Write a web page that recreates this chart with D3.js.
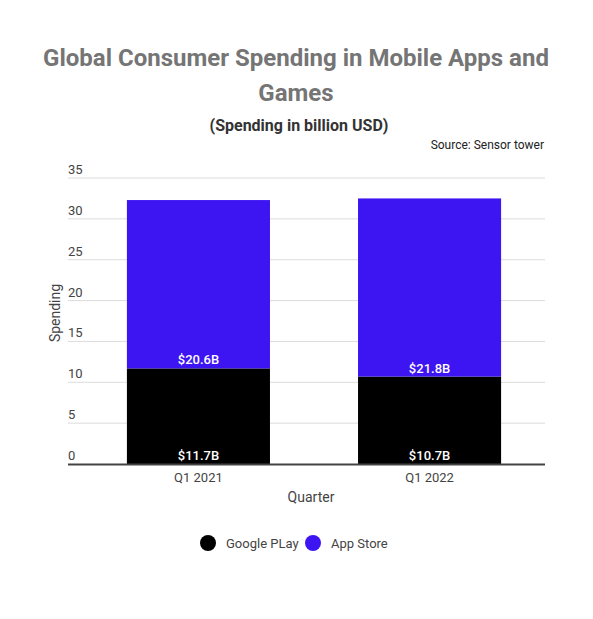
<!DOCTYPE html>
<meta charset="utf-8">
<style>
body { margin: 0; background: #fff; }
text { font-family: Roboto, sans-serif; }
</style>
<body>
<script src="https://cdnjs.cloudflare.com/ajax/libs/d3/7.8.5/d3.min.js"></script>
<script>

var quarters = ["Q1 2021", "Q1 2022"];
var googlePlay = [11.7, 10.7];
var appStore = [20.6, 21.8];
var seriesNames = ["Google PLay", "App Store"];
var seriesColors = ["#000000", "#3d14f2"];
var yTicks = [0, 5, 10, 15, 20, 25, 30, 35];

var width = 593,
    height = 619;

var svg = d3.select("body").append("svg")
    .attr("width", width)
    .attr("height", height);

var x = d3.scaleBand()
    .domain(quarters)
    .range([83, 545])
    .paddingInner(0.381)
    .paddingOuter(0.19);

var y = d3.scaleLinear()
    .domain([0, 35])
    .range([464, 178]);

// titles
svg.append("text")
    .attr("x", 296).attr("y", 66)
    .attr("text-anchor", "middle")
    .style("font-size", "24px").style("font-weight", "bold")
    .attr("fill", "#757575")
    .text("Global Consumer Spending in Mobile Apps and");
svg.append("text")
    .attr("x", 296).attr("y", 101)
    .attr("text-anchor", "middle")
    .style("font-size", "24px").style("font-weight", "bold")
    .attr("fill", "#757575")
    .text("Games");
svg.append("text")
    .attr("x", 299).attr("y", 131)
    .attr("text-anchor", "middle")
    .style("font-size", "16px").style("font-weight", "bold")
    .attr("fill", "#333")
    .text("(Spending in billion USD)");
svg.append("text")
    .attr("x", 544).attr("y", 149)
    .attr("text-anchor", "end")
    .style("font-size", "12px")
    .attr("fill", "#222")
    .text("Source: Sensor tower");

// grid + y labels
var grid = svg.append("g");
grid.selectAll("line").data(yTicks.filter(function(d) { return d > 0; })).enter()
    .append("line")
    .attr("x1", 68).attr("x2", 545)
    .attr("y1", function(d) { return y(d); })
    .attr("y2", function(d) { return y(d); })
    .attr("stroke", "#dcdcdc").attr("stroke-width", 1);
grid.selectAll("text").data(yTicks).enter()
    .append("text")
    .attr("x", 68)
    .attr("y", function(d) { return y(d) - 4; })
    .style("font-size", "13px")
    .attr("fill", "#444")
    .text(function(d) { return d; });

svg.append("text")
    .attr("transform", "translate(60,313) rotate(-90)")
    .attr("text-anchor", "middle")
    .style("font-size", "14px")
    .attr("fill", "#444")
    .text("Spending");

// stacked bars
var rows = quarters.map(function(q, i) {
    return { q: q, gp: googlePlay[i], as: appStore[i] };
});
var stack = d3.stack().keys(["gp", "as"])(rows);

var layers = svg.selectAll(".layer").data(stack).enter()
    .append("g")
    .attr("fill", function(d, i) { return seriesColors[i]; });

layers.selectAll("rect").data(function(d) { return d; }).enter()
    .append("rect")
    .attr("x", function(d) { return x(d.data.q); })
    .attr("width", x.bandwidth())
    .attr("y", function(d) { return y(d[1]); })
    .attr("height", function(d) { return y(d[0]) - y(d[1]); });

layers.selectAll("text").data(function(d) { return d; }).enter()
    .append("text")
    .attr("x", function(d) { return x(d.data.q) + x.bandwidth() / 2; })
    .attr("y", function(d) { return y(d[0]) - 4; })
    .attr("text-anchor", "middle")
    .style("font-size", "13px").style("font-weight", "500")
    .attr("fill", "#fff")
    .text(function(d) { return "$" + (d[1] - d[0]).toFixed(1) + "B"; });

// x axis
svg.append("line")
    .attr("x1", 68).attr("x2", 545)
    .attr("y1", 464.5).attr("y2", 464.5)
    .attr("stroke", "#444").attr("stroke-width", 2);
svg.selectAll(".xl").data(quarters).enter()
    .append("text")
    .attr("x", function(d) { return x(d) + x.bandwidth() / 2; })
    .attr("y", 482)
    .attr("text-anchor", "middle")
    .style("font-size", "13px")
    .attr("fill", "#444")
    .text(function(d) { return d; });
svg.append("text")
    .attr("x", 311).attr("y", 502)
    .attr("text-anchor", "middle")
    .style("font-size", "14px")
    .attr("fill", "#444")
    .text("Quarter");

// legend
var legX = [208, 313];
var leg = svg.selectAll(".leg").data(seriesNames).enter()
    .append("g")
    .attr("transform", function(d, i) { return "translate(" + legX[i] + ",543)"; });
leg.append("circle").attr("r", 8)
    .attr("fill", function(d, i) { return seriesColors[i]; });
leg.append("text")
    .attr("x", 18).attr("y", 5)
    .style("font-size", "13px")
    .attr("fill", "#444")
    .text(function(d) { return d; });
</script>
